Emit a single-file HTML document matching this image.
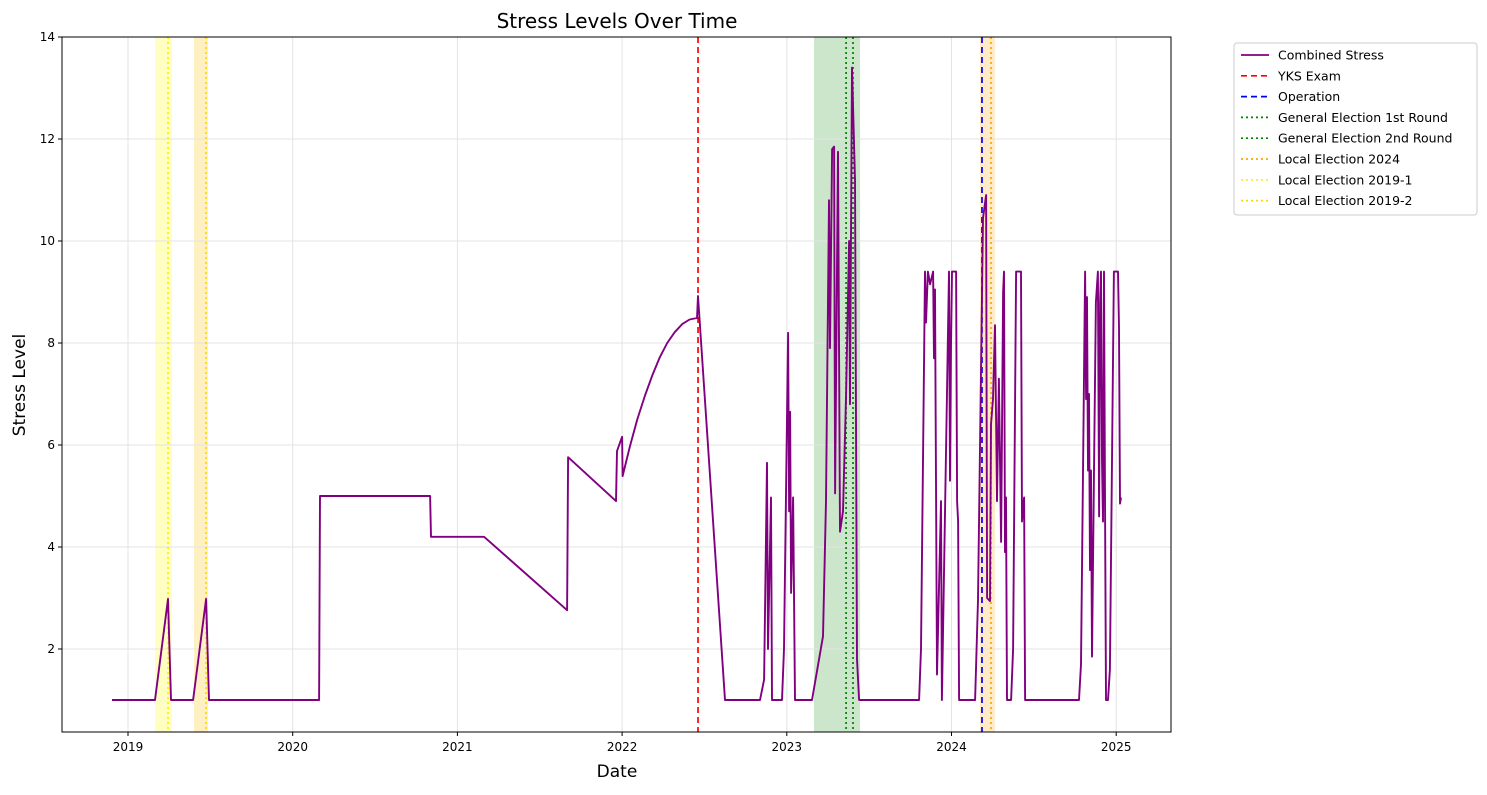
<!DOCTYPE html>
<html><head><meta charset="utf-8"><style>
body{margin:0;background:#fff;font-family:"Liberation Sans","DejaVu Sans",sans-serif;}
svg text{font-family:"DejaVu Sans","Liberation Sans",sans-serif;}
</style></head><body>
<svg id="chart" width="1487" height="790" xmlns="http://www.w3.org/2000/svg">
<rect width="1487" height="790" fill="#fff"/>
<g id="bands"></g><g id="grid"></g><g id="events"></g><g id="series"></g>
<rect x="62" y="37" width="1109" height="695" fill="none" stroke="#000" stroke-width="1"/>
<g id="axes"></g>
<text x="617" y="28" font-size="20" text-anchor="middle">Stress Levels Over Time</text>
<text x="617" y="777" font-size="17" text-anchor="middle">Date</text>
<text transform="translate(25,385) rotate(-90)" font-size="17" text-anchor="middle">Stress Level</text>
<g id="legend"></g>
</svg>
<script>
const years=[2019,2020,2021,2022,2023,2024,2025];
const yTicks=[2,4,6,8,10,12,14];
const dates=[2018.903,2019.164,2019.243,2019.261,2019.395,2019.474,2019.492,2020.160,2020.166,2020.834,2020.840,2021.162,2021.666,2021.672,2021.963,2021.969,2022.0,2022.003,2022.048,2022.093,2022.139,2022.184,2022.229,2022.274,2022.319,2022.365,2022.410,2022.455,2022.461,2022.625,2022.837,2022.862,2022.880,2022.886,2022.904,2022.910,2022.971,2022.983,2023.008,2023.014,2023.020,2023.026,2023.038,2023.050,2023.153,2023.220,2023.238,2023.256,2023.262,2023.275,2023.287,2023.293,2023.311,2023.323,2023.341,2023.360,2023.378,2023.384,2023.396,2023.414,2023.426,2023.439,2023.803,2023.815,2023.839,2023.845,2023.857,2023.870,2023.888,2023.894,2023.900,2023.912,2023.936,2023.942,2023.985,2023.991,2023.997,2024.003,2024.028,2024.034,2024.040,2024.046,2024.143,2024.161,2024.191,2024.210,2024.216,2024.234,2024.240,2024.252,2024.264,2024.276,2024.288,2024.301,2024.313,2024.319,2024.325,2024.331,2024.337,2024.362,2024.374,2024.392,2024.422,2024.428,2024.441,2024.447,2024.774,2024.786,2024.811,2024.817,2024.823,2024.829,2024.835,2024.841,2024.847,2024.853,2024.865,2024.877,2024.889,2024.896,2024.902,2024.908,2024.914,2024.920,2024.926,2024.932,2024.938,2024.950,2024.962,2024.986,2025.011,2025.017,2025.023,2025.029];
const stress=[1,1,2.98,1,1,2.98,1,1,5,5,4.2,4.2,2.76,5.76,4.9,5.88,6.16,5.39,5.98,6.51,6.97,7.37,7.72,8.0,8.21,8.37,8.46,8.49,8.92,1,1,1.4,5.65,2.0,4.97,1,1,2,8.2,4.7,6.65,3.1,4.97,1,1,2.25,4.9,10.8,7.9,11.8,11.85,5.05,11.75,4.3,4.7,7.0,10.0,6.8,13.4,11.2,1.8,1,1,2,9.4,8.4,9.4,9.15,9.4,7.7,9.05,1.5,4.9,1,9.4,5.3,7.95,9.4,9.4,4.9,4.5,1,1,2.96,10.45,10.9,3.0,2.94,6.4,6.9,8.35,4.9,7.3,4.1,9.0,9.4,3.9,4.97,1,1,2,9.4,9.4,4.5,4.97,1,1,1.7,9.4,6.9,8.9,5.5,7.0,3.55,5.5,1.85,5.5,8.8,9.4,4.6,8.8,9.4,5.7,4.5,9.4,4.95,1,1,1.6,9.4,9.4,8.3,4.85,4.97];
const eventNames=["YKS Exam","Operation","General Election 1st Round","General Election 2nd Round","Local Election 2024","Local Election 2019-1","Local Election 2019-2"];
const eventDates=[2022.461,2024.185,2023.360,2023.402,2024.240,2019.243,2019.474];
const bandStarts=[2023.165,2024.173,2019.164,2019.401];
const bandEnds=[2023.445,2024.264,2019.267,2019.486];

const NS="http://www.w3.org/2000/svg";
const X0=62,X1=1171,Y0=37,Y1=732;
const xS=d=>128+(d-2019)*164.7;
const yS=v=>751-v*51;
function mk(t,a,p){const e=document.createElementNS(NS,t);for(const k in a)e.setAttribute(k,a[k]);p.appendChild(e);return e;}
const bandColors=["#2e9b2e","#ffcc77","#ffff66","#ffd966"];
const bandOp=[0.25,0.4,0.4,0.4];
const bg=document.getElementById('bands');
bandStarts.forEach((s,i)=>{const r=mk('rect',{x:xS(s),y:Y0,width:xS(bandEnds[i])-xS(s),height:Y1-Y0,fill:bandColors[i],'fill-opacity':bandOp[i]},bg);

});
const gg=document.getElementById('grid'),ax=document.getElementById('axes');
years.forEach(y=>{const x=xS(y);mk('line',{x1:x,x2:x,y1:Y0,y2:Y1,stroke:'#e3e3e3','stroke-width':1},gg);
mk('line',{x1:x,x2:x,y1:Y1,y2:Y1+4,stroke:'#000'},ax);
const t=mk('text',{x:x,y:Y1+19,'font-size':12,'text-anchor':'middle'},ax);t.textContent=y;

});
yTicks.forEach(v=>{const y=yS(v);mk('line',{x1:X0,x2:X1,y1:y,y2:y,stroke:'#e3e3e3','stroke-width':1},gg);
mk('line',{x1:X0-4,x2:X0,y1:y,y2:y,stroke:'#000'},ax);
const t=mk('text',{x:X0-7,y:y+4,'font-size':12,'text-anchor':'end'},ax);t.textContent=v;

});
const evStyles=[['red','6,4'],['blue','6,4'],['green','2,3'],['green','2,3'],['orange','2,3'],['#ffee00','2,3'],['gold','2,3']];
const eg=document.getElementById('events');
eventDates.forEach((d,i)=>{const l=mk('line',{x1:xS(d),x2:xS(d),y1:Y0,y2:Y1,stroke:evStyles[i][0],'stroke-width':1.7,'stroke-dasharray':evStyles[i][1]},eg);

});
const pts=dates.map((d,i)=>xS(d).toFixed(1)+','+yS(stress[i]).toFixed(1)).join(' ');
const pl=mk('polyline',{points:pts,fill:'none',stroke:'purple','stroke-width':1.9,'stroke-linejoin':'round'},document.getElementById('series'));


const lg=document.getElementById('legend');
mk('rect',{x:1234,y:43,width:243,height:172,rx:3,fill:'#fff',stroke:'#ccc'},lg);
const legNames=["Combined Stress"].concat(eventNames);
const legStyles=[['purple','none']].concat(evStyles.map(s=>[s[0],s[1]]));
legNames.forEach((n,i)=>{const y=55+i*20.8;
mk('line',{x1:1241,x2:1269,y1:y,y2:y,stroke:legStyles[i][0],'stroke-width':1.7,'stroke-dasharray':legStyles[i][1]},lg);
const t=mk('text',{x:1278,y:y+4.5,'font-size':12.5},lg);t.textContent=n;

});
</script>
</body></html>
